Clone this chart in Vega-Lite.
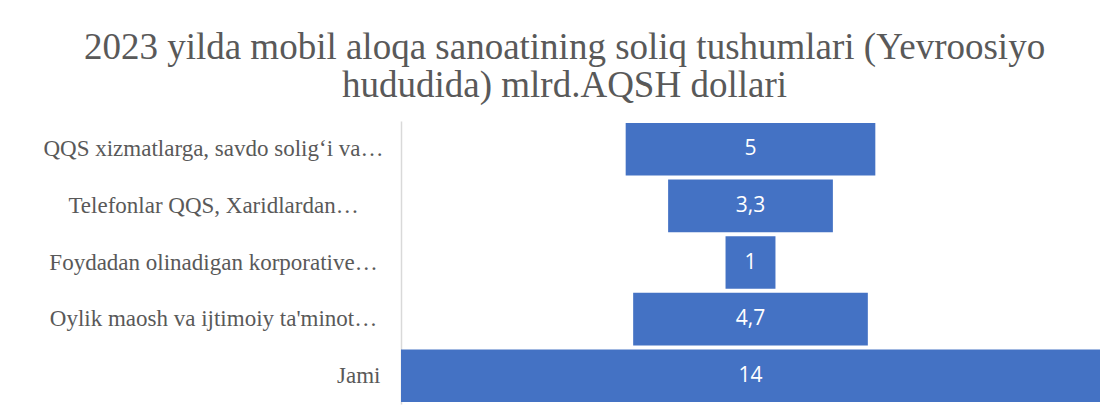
{
  "$schema": "https://vega.github.io/schema/vega-lite/v6.json",
  "autosize": {"type": "none"},
  "width": 699,
  "height": 283,
  "padding": {"left": 401, "top": 121, "right": 9, "bottom": 9},
  "background": "white",
  "config": {
    "view": {"stroke": null},
    "locale": {"number": {"decimal": ",", "thousands": " ", "grouping": [3], "currency": ["", ""]}}
  },
  "title": {
    "text": ["2023 yilda mobil aloqa sanoatining soliq tushumlari (Yevroosiyo", "hududida) mlrd.AQSH dollari"],
    "font": "Liberation Serif",
    "fontSize": 37,
    "fontWeight": "normal",
    "color": "#595959",
    "lineHeight": 38,
    "anchor": "middle",
    "dx": -186,
    "offset": 16
  },
  "data": {
    "values": [
      {"category": "QQS xizmatlarga, savdo solig‘i va…", "value": 5},
      {"category": "Telefonlar QQS, Xaridlardan…", "value": 3.3},
      {"category": "Foydadan olinadigan korporative…", "value": 1},
      {"category": "Oylik maosh va ijtimoiy ta'minot…", "value": 4.7},
      {"category": "Jami", "value": 14}
    ]
  },
  "encoding": {
    "y": {
      "field": "category",
      "type": "nominal",
      "sort": null,
      "scale": {"paddingInner": 0.07, "paddingOuter": 0.035},
      "axis": {
        "title": null,
        "ticks": false,
        "domainColor": "#d9d9d9",
        "domainWidth": 1.5,
        "labelFont": "Liberation Serif",
        "labelFontSize": 23,
        "labelColor": "#595959",
        "labelAlign": {"expr": "datum.value == 'Jami' ? 'right' : 'center'"},
        "labelPadding": {"expr": "datum.value == 'Jami' ? 21 : 188"},
        "labelLimit": 0
      }
    }
  },
  "layer": [
    {
      "mark": {"type": "bar", "color": "#4472c4"},
      "encoding": {
        "x": {
          "field": "value",
          "type": "quantitative",
          "stack": "center",
          "scale": {"domain": [0, 14], "nice": false},
          "axis": null
        }
      }
    },
    {
      "mark": {"type": "text", "color": "white", "font": "Open Sans", "fontSize": 21, "baseline": "middle", "align": "center"},
      "encoding": {
        "x": {"datum": 7, "type": "quantitative"},
        "text": {"field": "value", "type": "quantitative", "format": ".1~f"}
      }
    }
  ]
}
